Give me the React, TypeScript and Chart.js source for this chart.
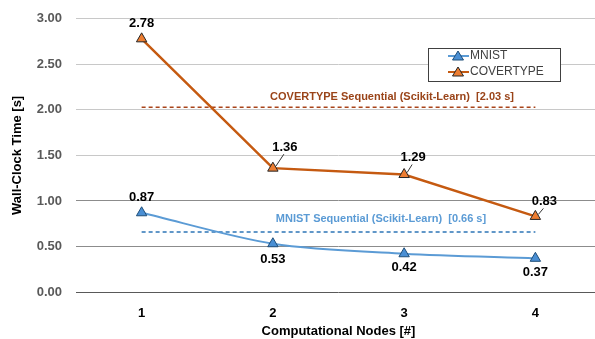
import React, { useEffect, useRef } from "react";
import { Chart, registerables } from "chart.js";

Chart.register(...registerables);

const categories = ["1", "2", "3", "4"];
const mnist = [0.87, 0.53, 0.42, 0.37];
const covertype = [2.78, 1.36, 1.29, 0.83];
const mnistSeq = 0.66;
const covSeq = 2.03;
const mnistSeqLabel = "MNIST Sequential (Scikit-Learn)  [0.66 s]";
const covSeqLabel = "COVERTYPE Sequential (Scikit-Learn)  [2.03 s]";
const yTicks = [0, 0.5, 1, 1.5, 2, 2.5, 3];

const FONT = "'Liberation Sans', Arial, sans-serif";
const COV_LINE = "#C55A11";
const COV_FILL = "#ED7D31";
const MN_LINE = "#5B9BD5";
const MN_FILL = "#4A8FD4";
const SHIFT = 3;

// label offsets relative to points [dx, dy]
const covOffsets = [[0, -15], [12, -21], [9, -17], [9, -15]];
const mnOffsets = [[0, -15], [0, 16], [0, 14], [0, 14]];
const covLeaders = [false, true, true, true];

const overlay = {
  id: "overlay",
  afterDatasetsDraw(chart: any) {
    const ctx = chart.ctx;
    const y = chart.scales.y;
    ctx.save();
    ctx.font = `bold 11px ${FONT}`;
    ctx.textAlign = "center";
    ctx.textBaseline = "middle";
    ctx.fillStyle = "#9A4419";
    ctx.fillText(covSeqLabel, 392, y.getPixelForValue(covSeq) - 10);
    ctx.fillStyle = "#5B9BD5";
    ctx.fillText(mnistSeqLabel, 381, y.getPixelForValue(mnistSeq) - 13);

    ctx.font = `bold 13px ${FONT}`;
    ctx.fillStyle = "#000";
    const covMeta = chart.getDatasetMeta(1);
    covMeta.data.forEach((p: any, i: number) => {
      const [dx, dy] = covOffsets[i];
      ctx.fillText(covertype[i].toFixed(2), p.x + dx, p.y + dy);
      if (covLeaders[i]) {
        ctx.strokeStyle = "#000";
        ctx.lineWidth = 0.8;
        ctx.beginPath();
        ctx.moveTo(p.x + dx - 1, p.y + dy + 7);
        ctx.lineTo(p.x + 3, p.y - 2);
        ctx.stroke();
      }
    });
    const mnMeta = chart.getDatasetMeta(0);
    mnMeta.data.forEach((p: any, i: number) => {
      const [dx, dy] = mnOffsets[i];
      ctx.fillText(mnist[i].toFixed(2), p.x + dx, p.y + dy);
    });

    const bx = 428, by = 48 + SHIFT, bw = 132, bh = 33;
    ctx.fillStyle = "#fff";
    ctx.fillRect(bx, by, bw, bh);
    ctx.strokeStyle = "#404040";
    ctx.lineWidth = 1;
    ctx.strokeRect(bx + 0.5, by + 0.5, bw, bh);
    const entries = [
      { label: "MNIST", line: MN_LINE, fill: MN_FILL, stroke: "#1F4E79", y: 56 + SHIFT },
      { label: "COVERTYPE", line: COV_LINE, fill: COV_FILL, stroke: "#262626", y: 72 + SHIFT },
    ];
    entries.forEach((e) => {
      ctx.strokeStyle = e.line;
      ctx.lineWidth = 2;
      ctx.beginPath();
      ctx.moveTo(448, e.y);
      ctx.lineTo(469, e.y);
      ctx.stroke();
      ctx.fillStyle = e.fill;
      ctx.strokeStyle = e.stroke;
      ctx.lineWidth = 1;
      ctx.beginPath();
      ctx.moveTo(458, e.y - 5);
      ctx.lineTo(463.5, e.y + 4);
      ctx.lineTo(452.5, e.y + 4);
      ctx.closePath();
      ctx.fill();
      ctx.stroke();
      ctx.fillStyle = "#404040";
      ctx.font = `12px ${FONT}`;
      ctx.textAlign = "left";
      ctx.fillText(e.label, 470, e.y);
    });
    ctx.restore();
  },
};

export default function App() {
  const ref = useRef<HTMLCanvasElement>(null);
  useEffect(() => {
    const chart = new Chart(ref.current!, {
      type: "line",
      data: {
        labels: categories,
        datasets: [
          {
            label: "MNIST",
            data: mnist,
            borderColor: MN_LINE,
            borderWidth: 2,
            tension: 0.3,
            pointStyle: "triangle",
            pointRadius: 6,
            pointBackgroundColor: MN_FILL,
            pointBorderColor: "#1F4E79",
            pointBorderWidth: 1,
          },
          {
            label: "COVERTYPE",
            data: covertype,
            borderColor: COV_LINE,
            borderWidth: 2.5,
            tension: 0,
            pointStyle: "triangle",
            pointRadius: 6,
            pointBackgroundColor: COV_FILL,
            pointBorderColor: "#262626",
            pointBorderWidth: 1,
          },
          {
            label: "covseq",
            data: categories.map(() => covSeq),
            borderColor: "#A9441A",
            borderWidth: 1.5,
            borderDash: [4, 3],
            pointRadius: 0,
          },
          {
            label: "mnseq",
            data: categories.map(() => mnistSeq),
            borderColor: "#2E75B6",
            borderWidth: 1.5,
            borderDash: [4, 3],
            pointRadius: 0,
          },
        ],
      },
      options: {
        responsive: false,
        animation: false,
        layout: { padding: { top: 14, right: 0, left: 10, bottom: 0 } },
        plugins: { legend: { display: false }, tooltip: { enabled: false } },
        scales: {
          x: {
            offset: true,
            grid: { display: false },
            border: { display: false },
            ticks: { color: "#000", font: { family: FONT, size: 13, weight: "bold" }, padding: 6 },
            title: {
              display: true,
              text: "Computational Nodes [#]",
              color: "#000",
              font: { family: FONT, size: 13, weight: "bold" },
              padding: { top: 0, bottom: 0 },
            },
            afterFit: (s: any) => { s.height = 47; },
          },
          y: {
            min: 0,
            max: 3,
            afterBuildTicks: (s: any) => { s.ticks = yTicks.map((v) => ({ value: v })); },
            grid: {
              color: (c: any) => {
                const v = c.tick ? c.tick.value : 0;
                if (v === 0) return "#595959";
                if (v <= 1) return "#8c8c8c";
                return "#c8c8c8";
              },
              lineWidth: 1,
              drawTicks: false,
            },
            border: { display: false },
            ticks: {
              color: "#595959",
              font: { family: FONT, size: 13, weight: "bold" },
              padding: 14,
              callback: (v: any) => Number(v).toFixed(2),
            },
            title: {
              display: true,
              text: "Wall-Clock Time [s]",
              color: "#000",
              font: { family: FONT, size: 13, weight: "bold" },
              padding: { top: 0, bottom: 4 },
            },
            afterFit: (s: any) => { s.width = 66; },
          },
        },
      },
      plugins: [overlay],
    });
    return () => chart.destroy();
  }, []);
  return (
    <div style={{ position: "fixed", left: 0, top: 0, width: 595, height: 339, overflow: "hidden", background: "#fff" }}>
      <canvas
        ref={ref}
        width={608}
        height={339 + SHIFT}
        style={{ width: 608, height: 339 + SHIFT, display: "block", marginTop: -SHIFT }}
      />
    </div>
  );
}
